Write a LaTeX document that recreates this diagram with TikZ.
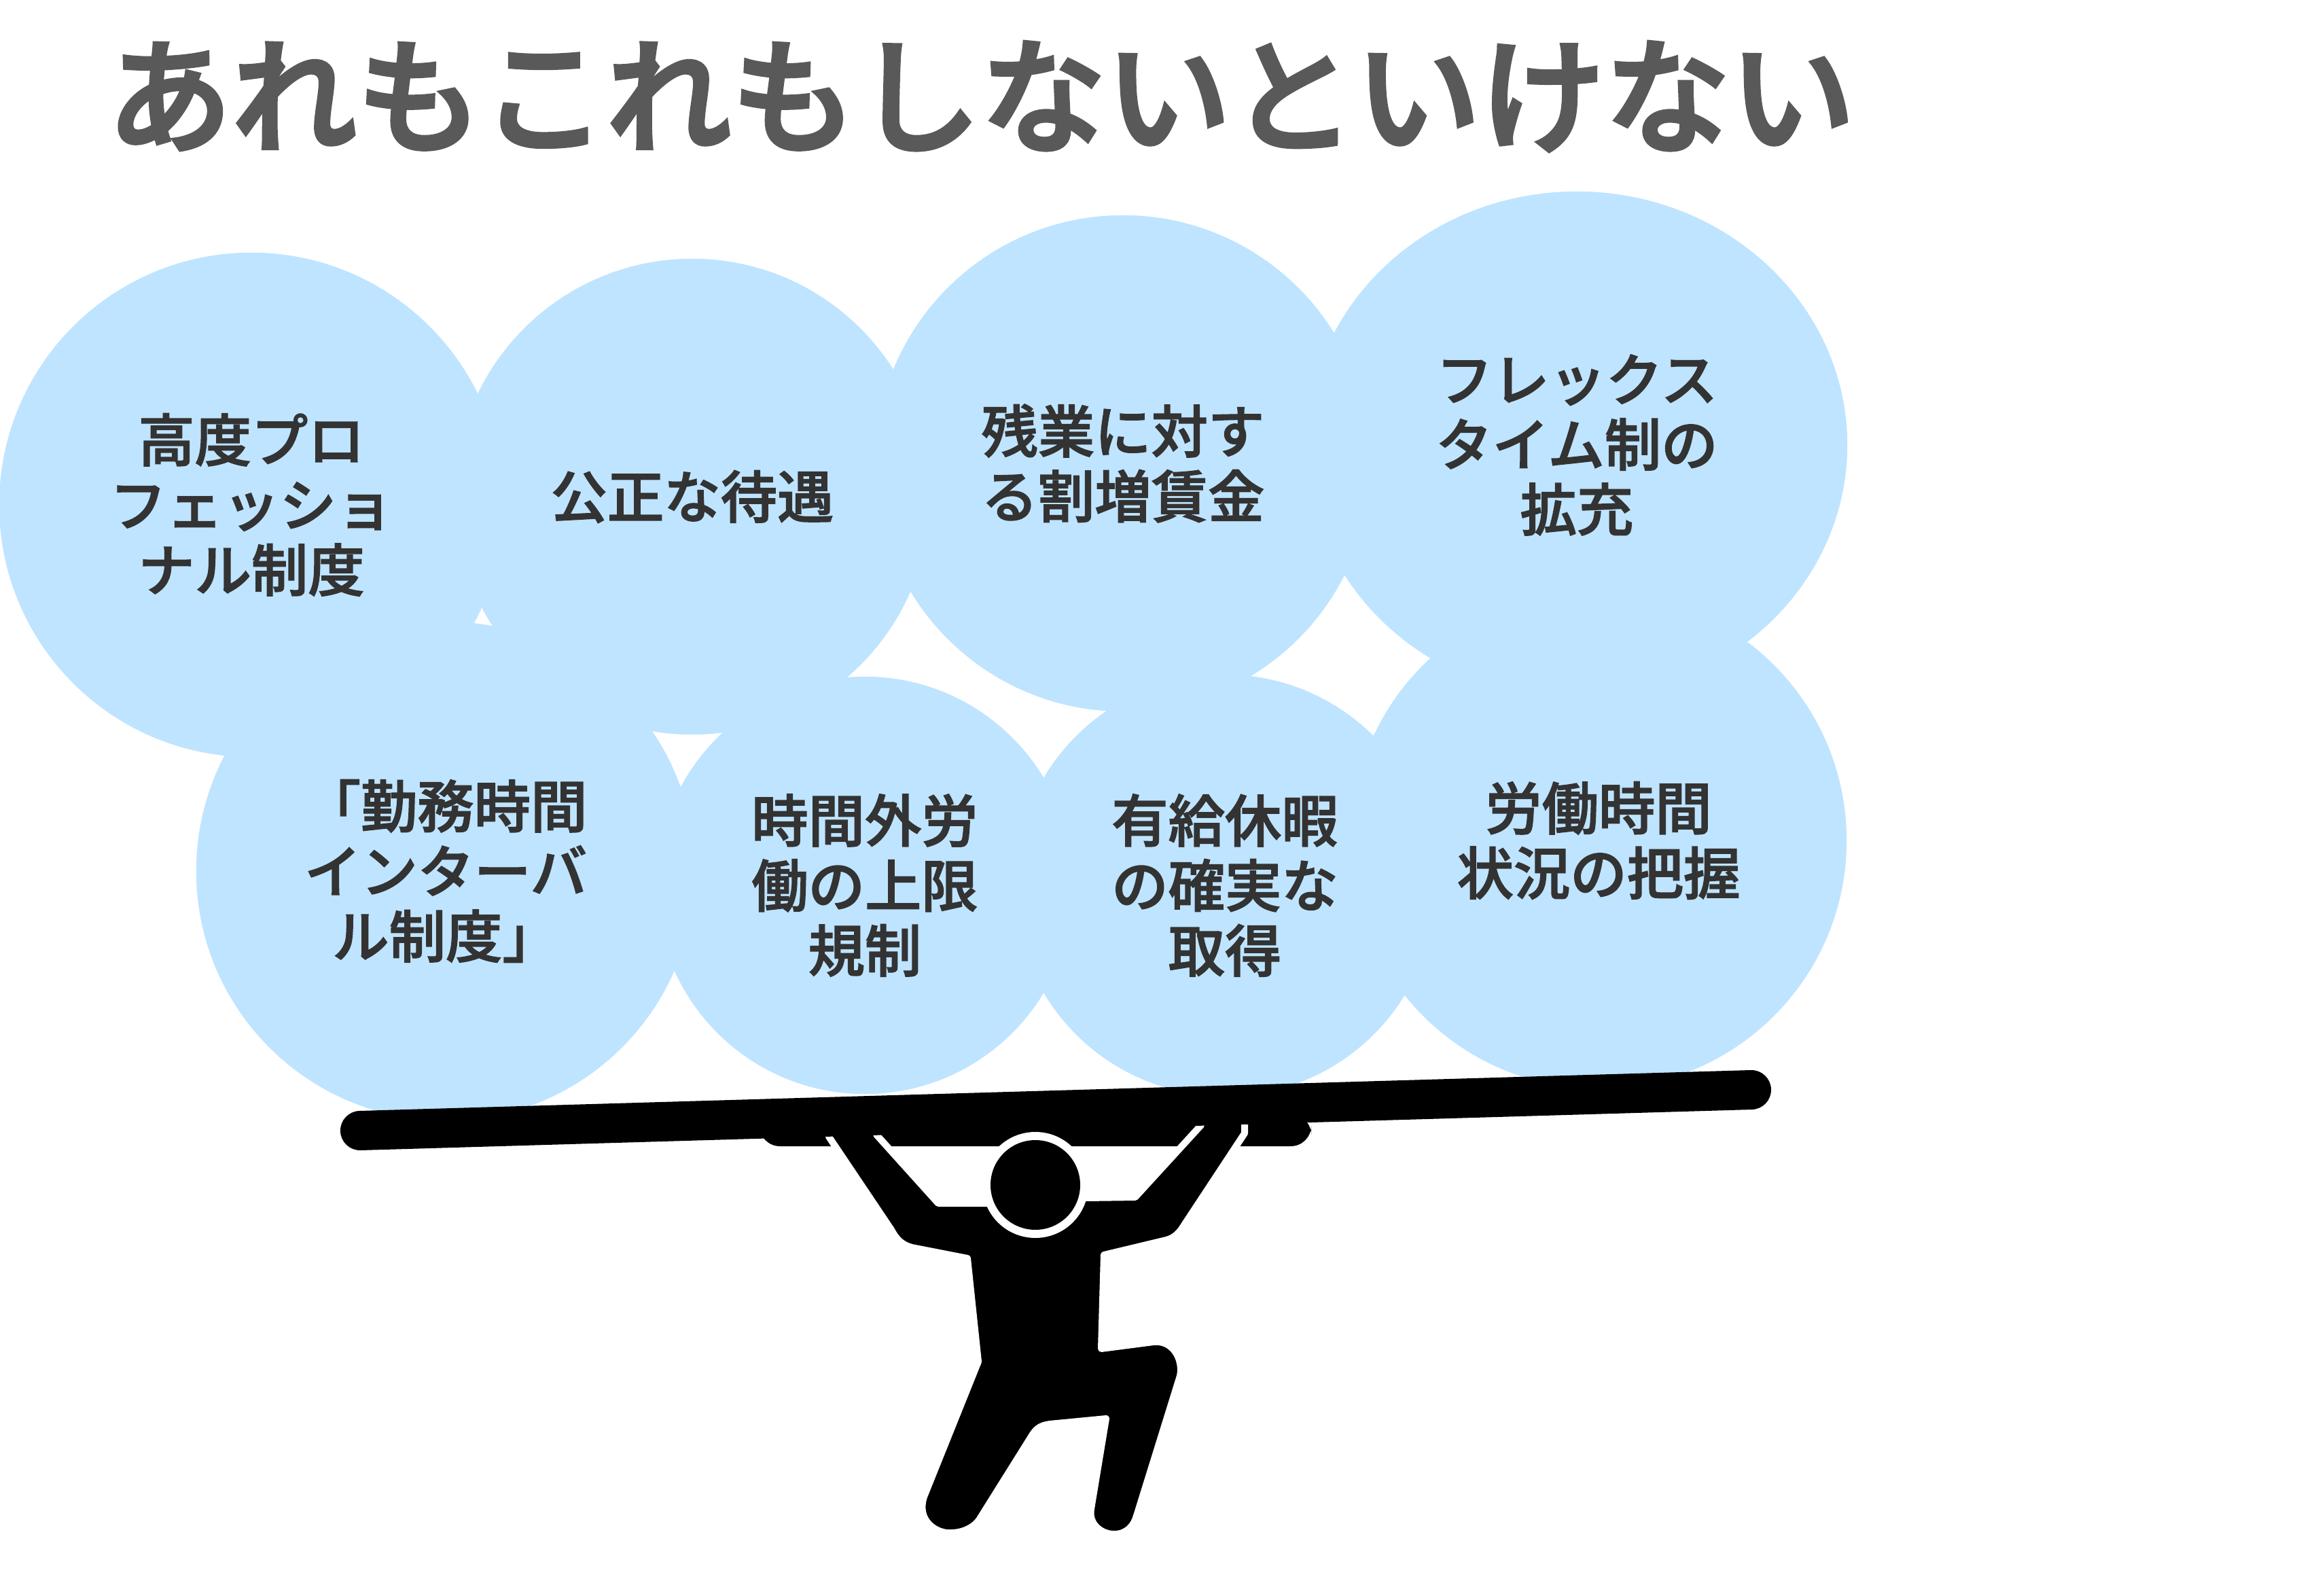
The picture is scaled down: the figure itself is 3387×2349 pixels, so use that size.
\documentclass[tikz,border=0pt]{standalone}
\usepackage{fontspec}
\usetikzlibrary{shapes.geometric}
\setmainfont{Noto Sans CJK JP}[BoldFont={Noto Sans CJK JP Medium},BoldFeatures={FakeBold=1.8}]
\newfontfamily\titlefont{Noto Sans CJK JP Medium}[FakeBold=3]
\definecolor{bubblecol}{HTML}{BFE4FF}
\definecolor{titlecol}{HTML}{595959}
\definecolor{textcol}{HTML}{333333}
\tikzset{
  bubble/.style={circle,fill=bubblecol,inner sep=0pt,align=center,text=textcol,
    font=\fontsize{23.7pt}{27.2pt}\selectfont\bfseries},
  halo/.style={fill=black,draw=white,line width=0.1cm,line join=round}
}

\begin{document}
\begin{tikzpicture}[x=0.01cm,y=-0.01cm]
\useasboundingbox (0,0) rectangle (3387,2349);
\node[anchor=west,inner sep=0pt,text=titlecol,font=\titlefont\fontsize{52.25pt}{60pt}\selectfont] (title) at (157,142) {あれもこれもしないといけない};
% top row
\node[bubble,minimum size=7.42cm] (koudo) at (370,743) {高度プロ\\フェッショ\\ナル制度};
\node[bubble,minimum size=7.00cm] (kousei) at (1019,731) {公正な待遇};
\node[bubble,minimum size=7.30cm] (zangyou) at (1653,682) {残業に対す\\る割増賃金};
\node[bubble,ellipse,minimum width=7.96cm,minimum height=7.46cm] (flex) at (2321,655) {フレックス\\タイム制の\\拡充};
% bottom row
\node[bubble,minimum size=7.34cm] (kinmu) at (656,1282) {「勤務時間\\インターバ\\ル制度」};
\node[bubble,minimum size=6.14cm] (jikan) at (1273,1303) {時間外労\\働の上限\\規制};
\node[bubble,minimum size=6.20cm] (yukyu) at (1803,1303) {有給休暇\\の確実な\\取得};
\node[bubble,minimum size=7.30cm] (roudou) at (2353,1237) {労働時間\\状況の把握};
% plates under the bar
\fill[rounded corners=0.3cm] (1118,1640) rectangle (1930,1687);
% person
\draw[halo] (1220,1640)--(1220,1673)--(1312,1810)
  .. controls (1320,1825) and (1328,1832) .. (1342,1836)
  --(1424,1852)--(1440,2004)--(1360,2203)
  .. controls (1348,2240) and (1381,2258) .. (1400,2256)
  .. controls (1417,2256) and (1435,2248) .. (1443,2234)
  --(1520,2111)
  .. controls (1526,2102) and (1532,2098) .. (1545,2096)
  --(1628,2088)--(1606,2221)
  .. controls (1602,2242) and (1620,2258) .. (1640,2258)
  .. controls (1658,2258) and (1669,2246) .. (1673,2231)
  --(1737,2025)
  .. controls (1742,2000) and (1726,1972) .. (1698,1975)
  --(1621,1985)--(1625,1847)--(1717,1825)
  .. controls (1728,1822) and (1736,1815) .. (1743,1803)
  --(1832,1668)--(1832,1640)--(1768,1640)--(1768,1656)
  --(1671,1762)--(1599,1763)--(1452,1771)--(1381,1771)--(1290,1670)--(1290,1640)--cycle;
\fill[white] (1524,1744) circle (78);
\fill (1524,1744) circle (66);
% bar
\coordinate (barleft) at (530,1664);
\coordinate (barright) at (2578,1604);
\draw[line width=0.58cm,line cap=round] (barleft)--(barright);
\end{tikzpicture}
\end{document}
